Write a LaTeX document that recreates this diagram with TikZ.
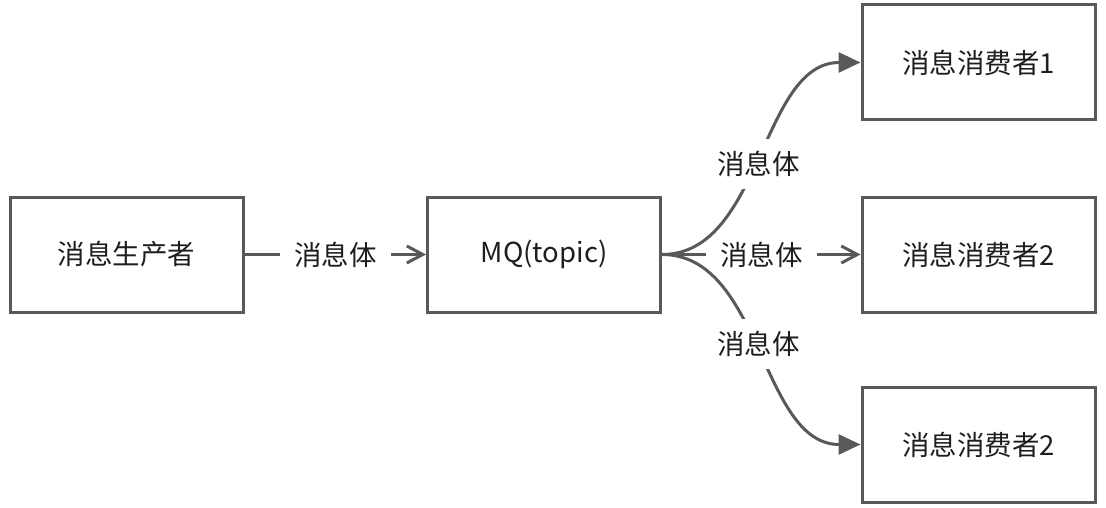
\documentclass[tikz,border=0pt]{standalone}
\usepackage{fontspec}
\setmainfont{Noto Sans CJK SC}
\usetikzlibrary{arrows.meta}
\definecolor{ln}{HTML}{595959}
\definecolor{tx}{HTML}{1E1E1E}
\begin{document}
\begin{tikzpicture}[x=1pt,y=-1pt,
  box/.style={draw=ln,line width=3pt,minimum width=233pt,minimum height=115pt,inner sep=0pt,text=tx,font=\fontsize{27.5}{32}\selectfont},
  lbl/.style={fill=white,inner xsep=14pt,inner ysep=12pt,text=tx,font=\fontsize{27.5}{32}\selectfont},
  con/.style={draw=ln,line width=3pt},
  open/.style={-{Straight Barb[length=16pt,width=17pt,line width=3pt]}},
  solid/.style={-{Triangle[length=22pt,width=20pt]}}]
\useasboundingbox (0,0) rectangle (1106,508);
\node[box] (p) at (126.5,254.5) {消息生产者};
\node[box] (mq) at (544,254.5) {MQ(topic)};
\node[box] (c1) at (978.5,62.5) {消息消费者1};
\node[box] (c2) at (978.5,254.5) {消息消费者2};
\node[box] (c3) at (978.5,444.5) {消息消费者2};
\draw[con,open] (p.east) -- node[lbl]{消息体} (mq.west);
\draw[con,open] (mq.east) -- node[lbl]{消息体} (c2.west);
\draw[con,solid] (mq.east) .. controls +(100,0) and +(-100,0) .. node[lbl,pos=0.48]{消息体} (c1.west);
\draw[con,solid] (mq.east) .. controls +(100,0) and +(-100,0) .. node[lbl,pos=0.48]{消息体} (c3.west);
\end{tikzpicture}
\end{document}
